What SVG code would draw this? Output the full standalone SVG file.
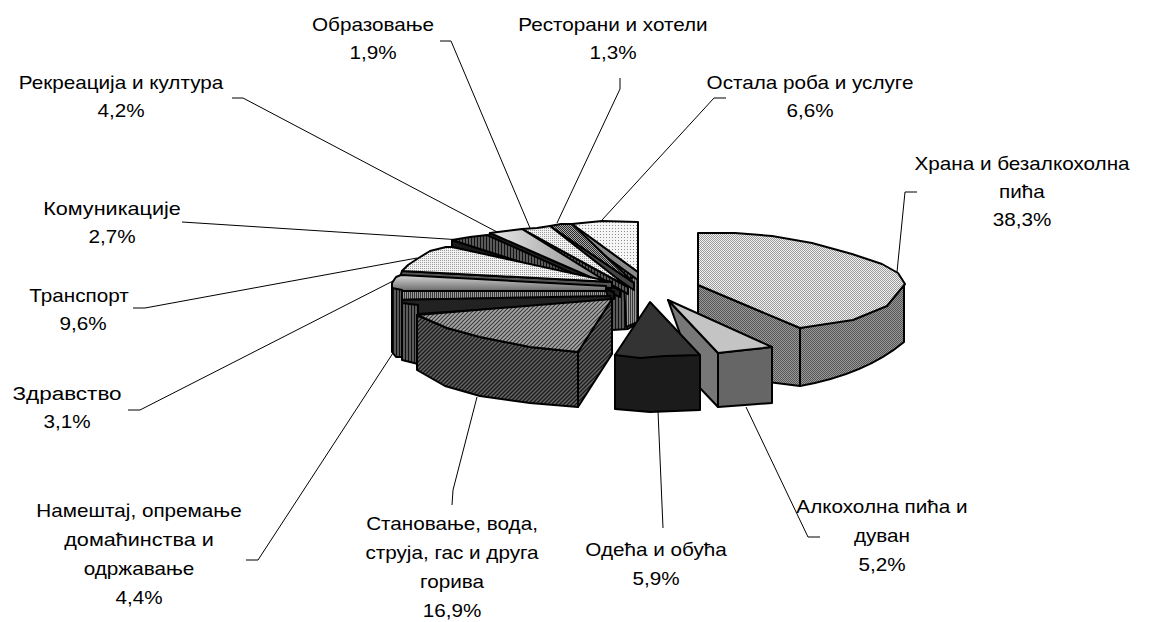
<svg xmlns="http://www.w3.org/2000/svg" width="1149" height="622" viewBox="0 0 1149 622">
<style>
.t{font-family:"Liberation Sans",Arial,sans-serif;font-size:18px;fill:#000;text-anchor:middle}
.ld{fill:none;stroke:#000;stroke-width:1}
.f{stroke:#000;stroke-width:2;stroke-linejoin:round}
</style>
<defs>
<pattern id="pDotsL" width="3" height="3" patternUnits="userSpaceOnUse"><rect width="3" height="3" fill="#f6f6f6"/><rect width="1" height="1" fill="#8c8c8c"/></pattern>
<pattern id="pDots" width="2" height="2" patternUnits="userSpaceOnUse"><rect width="2" height="2" fill="#f2f2f2"/><rect width="1" height="1" fill="#9a9a9a"/></pattern>
<pattern id="pCheckL" width="2" height="2" patternUnits="userSpaceOnUse"><rect width="2" height="2" fill="#f0f0f0"/><rect width="1" height="1" fill="#9c9c9c"/><rect x="1" y="1" width="1" height="1" fill="#9c9c9c"/></pattern>
<pattern id="pCheckM" width="2" height="2" patternUnits="userSpaceOnUse"><rect width="2" height="2" fill="#9a9a9a"/><rect width="1" height="1" fill="#555"/><rect x="1" y="1" width="1" height="1" fill="#555"/></pattern>
<pattern id="pCheckD" width="2" height="2" patternUnits="userSpaceOnUse"><rect width="2" height="2" fill="#aaa"/><rect width="1" height="1" fill="#2a2a2a"/><rect x="1" y="1" width="1" height="1" fill="#2a2a2a"/></pattern>
<pattern id="pHatchL" width="4" height="4" patternUnits="userSpaceOnUse"><rect width="4" height="4" fill="#a8a8a8"/><path d="M-1,1 L1,-1 M0,4 L4,0 M3,5 L5,3" stroke="#3a3a3a" stroke-width="1.2"/></pattern>
<pattern id="pHatchD" width="4" height="4" patternUnits="userSpaceOnUse"><rect width="4" height="4" fill="#666"/><path d="M-1,1 L1,-1 M0,4 L4,0 M3,5 L5,3" stroke="#1a1a1a" stroke-width="1.4"/></pattern>
<pattern id="pVD" width="3" height="3" patternUnits="userSpaceOnUse"><rect width="3" height="3" fill="#5a5a5a"/><rect width="1" height="3" fill="#111"/></pattern>
<pattern id="pVM" width="2" height="2" patternUnits="userSpaceOnUse"><rect width="2" height="2" fill="#9a9a9a"/><rect width="1" height="2" fill="#3a3a3a"/></pattern>
<linearGradient id="gRek" x1="0" y1="0" x2="1" y2="0"><stop offset="0" stop-color="#e8e8e8"/><stop offset="1" stop-color="#7a7a7a"/></linearGradient>
<linearGradient id="gZdr" x1="0" y1="0" x2="0" y2="1"><stop offset="0" stop-color="#d8d8d8"/><stop offset="1" stop-color="#6a6a6a"/></linearGradient>
</defs>

<g id="connectors">
<polyline class="ld" points="440,41 451,41 530,228"/>
<polyline class="ld" points="620,78 620,89 557,223"/>
<polyline class="ld" points="726,98 714,98 602,220"/>
<polyline class="ld" points="917,192 905,192 897,272"/>
<polyline class="ld" points="232,98 243,98 497,232"/>
<polyline class="ld" points="182,222 462,240"/>
<polyline class="ld" points="133,308 145,308 417,258"/>
<polyline class="ld" points="128,410 140,410 393,281"/>
<polyline class="ld" points="246,560 258,560 393,353"/>
<polyline class="ld" points="452,505 453,490 477,397"/>
<polyline class="ld" points="663,528 658,411"/>
<polyline class="ld" points="746,407 808,537 820,537"/>
</g>

<g id="slice-core">
<polygon class="f" fill="url(#pVD)" points="598,262 638,272 638,323 628,329 612,330 600,300"/>
<polygon class="f" fill="url(#pVM)" points="624,280 638,276 638,322 626,327"/>
</g>

<g id="slice-ostala">
<polygon class="f" fill="#8a8a8a" points="572,224 638,272 638,280 569,230"/>
<polygon class="f" fill="url(#pDotsL)" points="572,224 602,221 638,222 638,272"/>
</g>

<g id="slice-restorani">
<polygon class="f" fill="#444" points="550,226 634,283 634,290 547,232"/>
<polygon class="f" fill="url(#pCheckD)" points="550,226 561,224 572,224 634,283"/>
</g>

<g id="slice-obrazovanje">
<polygon class="f" fill="url(#pVD)" points="522,229 628,287 628,294 519,235"/>
<polygon class="f" fill="url(#pDots)" points="522,229 537,228 550,226 628,287"/>
</g>

<g id="slice-rekreacija">
<polygon class="f" fill="#222" points="490,233 620,290 620,297 487,240"/>
<polygon class="f" fill="url(#gRek)" points="490,233 506,231 522,229 620,290"/>
</g>

<g id="slice-komunikacije">
<polygon class="f" fill="#1a1a1a" points="452,240 614,292 614,299 452,248"/>
<polygon class="f" fill="url(#pVD)" points="452,240 470,237 487,235 614,292"/>
</g>

<g id="slice-transport">
<polygon class="f" fill="#555" points="402,271 612,282 612,288 400,277"/>
<polygon class="f" fill="url(#pDots)" points="402,271 408,265 417,259 430,251 446,247 452,247 612,282"/>
</g>

<g id="slice-zdravstvo">
<polygon class="f" fill="url(#gZdr)" points="392,283 396,277 401,275 606,286 606,291 392,291"/>
<polygon class="f" fill="url(#pVM)" points="392,291 606,291 608,297 392,300"/>
</g>

<g id="slice-namestaj">
<polygon class="f" fill="#222" points="392,300 610,296 612,301 417,314 402,306"/>
<polygon class="f" fill="url(#pVD)" points="392,288 402,290 402,357 396,357 392,352"/>
<polygon class="f" fill="url(#pVD)" points="402,303 418,305 418,364 402,360"/>
</g>

<g id="slice-stanovanje">
<polygon class="f" fill="url(#pHatchD)" points="578,352 612,299 612,354 578,407"/>
<polygon class="f" fill="url(#pHatchD)" points="417,315 447,328 480,337 530,347 578,352 578,407 530,403 480,396 445,386 417,370"/>
<polygon class="f" fill="url(#pHatchL)" points="417,315 612,299 578,352 530,347 480,337 447,328"/>
</g>

<g id="slice-hrana">
<path class="f" fill="url(#pCheckM)" d="M800,328 C840,322 875,306 904,284 L904,342 C880,362 845,378 800,386 Z"/>
<polygon class="f" fill="url(#pCheckM)" points="698,285 800,328 800,386 698,373"/>
<polygon class="f" fill="url(#pCheckL)" points="698,233 735,233 772,236 812,243 852,254 882,264 898,273 905,284 887,306 853,320 800,328 698,285"/>
</g>

<g id="slice-alkohol">
<polygon class="f" fill="#777" points="668,300 718,353 718,407 699,387"/>
<polygon class="f" fill="#666" points="718,353 745,350 772,347 772,403 745,405 718,407"/>
<polygon class="f" fill="#c4c4c4" points="668,300 772,347 745,350 718,353"/>
</g>

<g id="slice-odeca">
<polygon class="f" fill="#1b1b1b" points="615,355 700,355 700,410 650,412 615,409"/>
<polygon class="f" fill="#333" points="650,302 700,355 665,356 640,358 615,355"/>
</g>

<g id="labels">
<text class="t" transform="translate(373,31) scale(1.15,1)">Образовање</text><text class="t" transform="translate(373,59) scale(1.15,1)">1,9%</text>
<text class="t" transform="translate(613,31) scale(1.15,1)">Ресторани и хотели</text><text class="t" transform="translate(613,59) scale(1.15,1)">1,3%</text>
<text class="t" transform="translate(810,89) scale(1.15,1)">Остала роба и услуге</text><text class="t" transform="translate(810,117) scale(1.15,1)">6,6%</text>
<text class="t" transform="translate(1022,170) scale(1.15,1)">Храна и безалкохолна</text><text class="t" transform="translate(1022,198) scale(1.15,1)">пића</text><text class="t" transform="translate(1022,226) scale(1.15,1)">38,3%</text>
<text class="t" transform="translate(121,89) scale(1.15,1)">Рекреација и култура</text><text class="t" transform="translate(121,117) scale(1.15,1)">4,2%</text>
<text class="t" transform="translate(112,215) scale(1.2,1)">Комуникације</text><text class="t" transform="translate(112,243) scale(1.15,1)">2,7%</text>
<text class="t" transform="translate(79,302) scale(1.15,1)">Транспорт</text><text class="t" transform="translate(83,330) scale(1.15,1)">9,6%</text>
<text class="t" transform="translate(67,400) scale(1.25,1)">Здравство</text><text class="t" transform="translate(67,428) scale(1.15,1)">3,1%</text>
<text class="t" transform="translate(139,517) scale(1.15,1)">Намештај, опремање</text><text class="t" transform="translate(139,546) scale(1.2,1)">домаћинства и</text><text class="t" transform="translate(139,575) scale(1.15,1)">одржавање</text><text class="t" transform="translate(139,604) scale(1.15,1)">4,4%</text>
<text class="t" transform="translate(452,530) scale(1.15,1)">Становање, вода,</text><text class="t" transform="translate(452,559) scale(1.15,1)">струја, гас и друга</text><text class="t" transform="translate(452,588) scale(1.15,1)">горива</text><text class="t" transform="translate(452,617) scale(1.15,1)">16,9%</text>
<text class="t" transform="translate(656,556) scale(1.15,1)">Одећа и обућа</text><text class="t" transform="translate(656,585) scale(1.15,1)">5,9%</text>
<text class="t" transform="translate(882,513) scale(1.15,1)">Алкохолна пића  и</text><text class="t" transform="translate(882,542) scale(1.15,1)">дуван</text><text class="t" transform="translate(882,571) scale(1.15,1)">5,2%</text>
</g>
</svg>
